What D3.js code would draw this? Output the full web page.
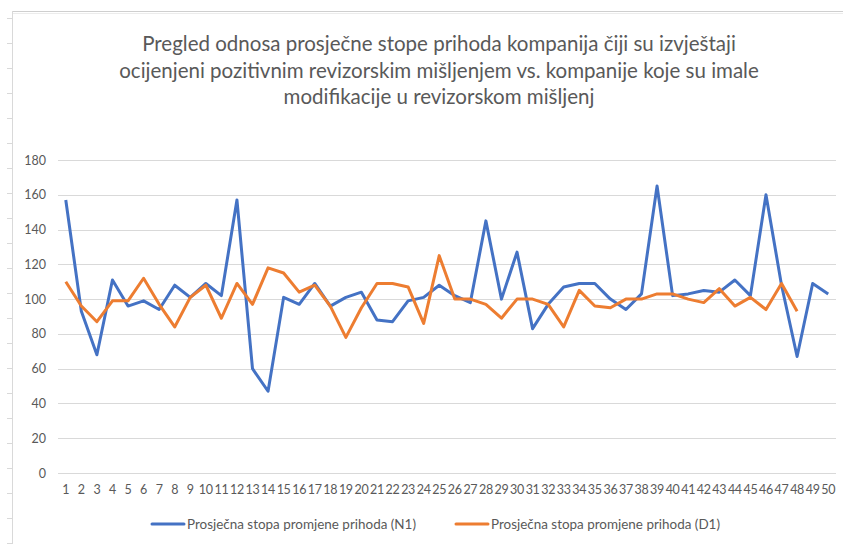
<!DOCTYPE html>
<html>
<head>
<meta charset="utf-8">
<script src="https://cdn.jsdelivr.net/npm/d3@7"></script>
<style>
body { margin: 0; background: #fff; }
text { font-family: Lato, "Open Sans", sans-serif; fill: #595959; }
</style>
</head>
<body>
<svg width="843" height="544"></svg>
<script>
var svg = d3.select("svg"),
	width = +svg.attr("width"),
	height = +svg.attr("height");

//categories on the x axis
var categories = d3.range(1, 51);

//Prosječna stopa promjene prihoda (N1)
var seriesN1 = [157, 93, 68, 111, 96, 99, 94, 108, 101, 109,
	102, 157, 60, 47, 101, 97, 109, 96, 101, 104,
	88, 87, 99, 101, 108, 102, 98, 145, 100, 127,
	83, 97, 107, 109, 109, 100, 94, 103, 165, 102,
	103, 105, 104, 111, 102, 160, 108, 67, 109, 103];

//Prosječna stopa promjene prihoda (D1) - ends at 48
var seriesD1 = [110, 96, 87, 99, 99, 112, 97, 84, 101, 108,
	89, 109, 97, 118, 115, 104, 108, 96, 78, 95,
	109, 109, 107, 86, 125, 100, 100, 97, 89, 100,
	100, 97, 84, 105, 96, 95, 100, 100, 103, 103,
	100, 98, 106, 96, 101, 94, 109, 93];

var yTicks = [0, 20, 40, 60, 80, 100, 120, 140, 160, 180];

var seriesNames = ["Prosječna stopa promjene prihoda (N1)", "Prosječna stopa promjene prihoda (D1)"];
var colors = ["#4472C4", "#ED7D31"];

var titleLines = [
	"Pregled odnosa prosječne stope prihoda kompanija čiji su izvještaji",
	"ocijenjeni pozitivnim revizorskim mišljenjem vs. kompanije koje su imale",
	"modifikacije u revizorskom mišljenj"
];

//chart frame
var frame = svg.append("g").attr("class", "frame");
frame.append("line")
	.attr("x1", 12).attr("x2", width).attr("y1", 11.5).attr("y2", 11.5)
	.style("stroke", "#cfcfcf");
frame.append("line")
	.attr("x1", 12).attr("x2", width).attr("y1", 13.5).attr("y2", 13.5)
	.style("stroke", "#ececec");
frame.append("line")
	.attr("x1", 12.5).attr("x2", 12.5).attr("y1", 11).attr("y2", height)
	.style("stroke", "#d9d9d9");
//little marks on the left edge
for (var t = 18; t < height; t += 25) {
	frame.append("line")
		.attr("x1", 7).attr("x2", 12).attr("y1", t + 0.5).attr("y2", t + 0.5)
		.style("stroke", "#d9d9d9");
}

//title
svg.append("text")
	.attr("x", 439)
	.attr("y", 51)
	.attr("text-anchor", "middle")
	.style("font-size", "20.5px")
	.selectAll("tspan")
	.data(titleLines)
	.enter().append("tspan")
	.attr("x", 439)
	.attr("dy", function (d, i) { return i == 0 ? 0 : 26.5; })
	.text(function (d) { return d; });

//scales
var x = d3.scaleBand()
	.domain(categories)
	.range([58, 836]);

var y = d3.scaleLinear()
	.domain([0, 180])
	.range([473, 160]);

//gridlines
svg.append("g")
	.selectAll("line")
	.data(yTicks)
	.enter().append("line")
	.attr("x1", 58)
	.attr("x2", 836)
	.attr("y1", function (d) { return Math.round(y(d)) + 0.5; })
	.attr("y2", function (d) { return Math.round(y(d)) + 0.5; })
	.style("stroke", "#d9d9d9")
	.style("stroke-width", 1);

//y axis
var yAxis = svg.append("g")
	.attr("transform", "translate(46,0)")
	.call(d3.axisLeft(y).tickValues(yTicks).tickSize(0).tickPadding(0));
yAxis.select(".domain").remove();
yAxis.selectAll("text")
	.style("font-size", "12.5px")
	.style("fill", "#595959")
	.attr("font-family", null);

//x axis
var xAxis = svg.append("g")
	.attr("transform", "translate(0,485)")
	.call(d3.axisBottom(x).tickSize(0).tickPadding(0));
xAxis.select(".domain").remove();
xAxis.selectAll("text")
	.style("font-size", "12.5px")
	.style("fill", "#595959")
	.style("letter-spacing", "-0.3px")
	.attr("font-family", null);

//lines
var line = d3.line()
	.x(function (d, i) { return x(categories[i]) + x.bandwidth() / 2; })
	.y(function (d) { return y(d); });

[seriesN1, seriesD1].forEach(function (s, k) {
	svg.append("path")
		.datum(s)
		.attr("d", line)
		.style("fill", "none")
		.style("stroke", colors[k])
		.style("stroke-width", 3)
		.style("stroke-linejoin", "round");
});

//legend
var legendX = [152, 456];
var legend = svg.append("g")
	.selectAll("g")
	.data(seriesNames)
	.enter().append("g")
	.attr("transform", function (d, i) { return "translate(" + legendX[i] + ",524)"; });

legend.append("line")
	.attr("x1", 0).attr("x2", 32)
	.attr("y1", 0).attr("y2", 0)
	.style("stroke", function (d, i) { return colors[i]; })
	.style("stroke-width", 3)
	.style("stroke-linecap", "round");

legend.append("text")
	.attr("x", 35)
	.attr("y", 4.5)
	.style("font-size", "13px")
	.attr("textLength", 229)
	.attr("lengthAdjust", "spacingAndGlyphs")
	.text(function (d) { return d; });
</script>
</body>
</html>
